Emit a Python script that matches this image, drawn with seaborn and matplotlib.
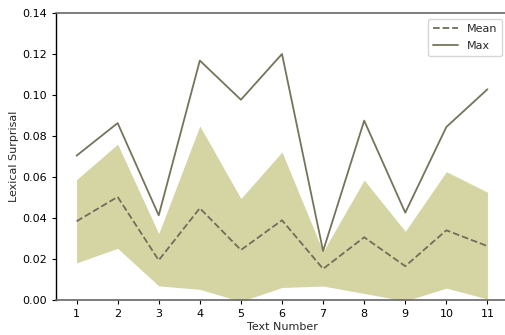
import matplotlib
matplotlib.use('Agg')
import matplotlib.pyplot as plt
import seaborn as sns
import pandas as pd

# Values
text_number = [1, 2, 3, 4, 5, 6, 7, 8, 9, 10, 11]
mean_vals = [0.0384, 0.0503, 0.0194, 0.0448, 0.0244, 0.0389, 0.0152, 0.0306, 0.0165, 0.0340, 0.0263]
max_vals = [0.0704, 0.0863, 0.0413, 0.1168, 0.0977, 0.1200, 0.0239, 0.0875, 0.0426, 0.0844, 0.1028]
band_low = [0.0181, 0.0252, 0.0069, 0.0052, -0.0007, 0.0061, 0.0068, 0.0032, -0.0005, 0.0058, 0.0005]
band_high = [0.0587, 0.0760, 0.0324, 0.0849, 0.0495, 0.0722, 0.0236, 0.0585, 0.0335, 0.0626, 0.0526]

df = pd.DataFrame({'Text Number': text_number, 'Mean': mean_vals, 'Max': max_vals,
                   'low': band_low, 'high': band_high})

sns.set_style('white')
plt.rcParams['font.family'] = ['DejaVu Sans']

fig = plt.figure(figsize=(5.05, 3.35), dpi=100)
ax = fig.add_axes([56 / 505, 35 / 335, 452 / 505, 287 / 335])

# Shaded band
ax.fill_between(df['Text Number'], df['low'], df['high'], color='#d4d5a2', linewidth=0)

# Mean and max lines
sns.lineplot(data=df, x='Text Number', y='Mean', ax=ax, color='#6f6e5c', linestyle='--',
             linewidth=1.3, label='Mean')
sns.lineplot(data=df, x='Text Number', y='Max', ax=ax, color='#75745a', linewidth=1.3, label='Max')

ax.set_xlim(0.5, 11.5)
ax.set_ylim(0, 0.14)
ax.set_xticks(text_number)
ax.set_yticks([0.0, 0.02, 0.04, 0.06, 0.08, 0.10, 0.12, 0.14])
ax.set_yticklabels(['0.00', '0.02', '0.04', '0.06', '0.08', '0.10', '0.12', '0.14'])
ax.tick_params(axis='both', labelsize=8, length=3, width=0.8, direction='out',
               bottom=True, left=True, colors='black')
ax.set_xlabel('Text Number', fontsize=8, labelpad=2)
ax.set_ylabel('Lexical Surprisal', fontsize=8, labelpad=2)

ax.spines['right'].set_visible(False)
ax.spines['left'].set_color('black')
ax.spines['left'].set_linewidth(1.0)
ax.spines['top'].set_color('#666666')
ax.spines['bottom'].set_color('#666666')
ax.spines['top'].set_linewidth(1.2)
ax.spines['bottom'].set_linewidth(1.2)

ax.legend(loc='upper right', fontsize=8, frameon=True, handlelength=2.2,
          borderpad=0.5, labelspacing=0.6)

fig.savefig('out.png', dpi=100)
